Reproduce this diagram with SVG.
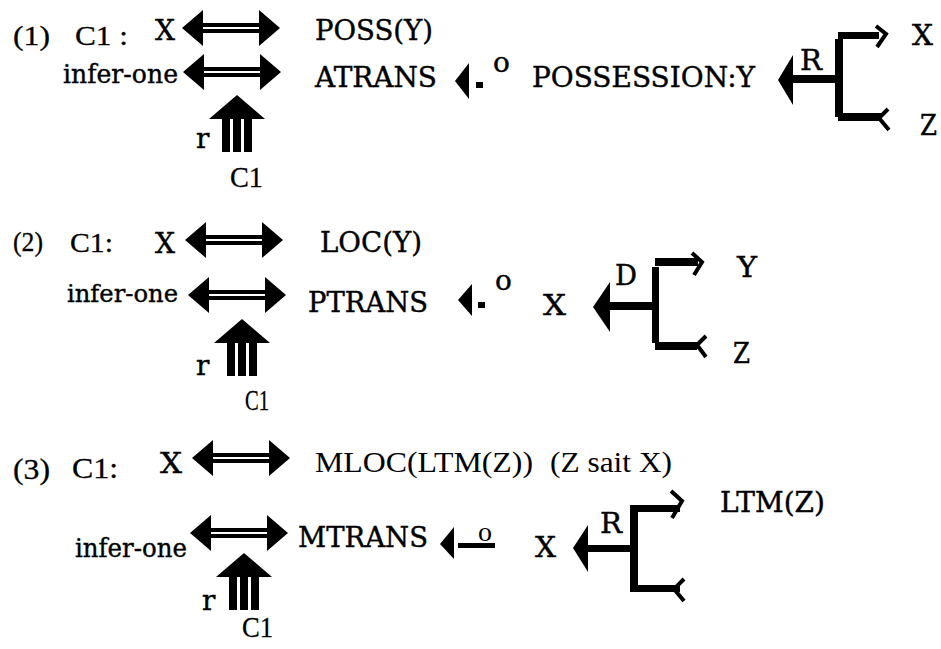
<svg xmlns="http://www.w3.org/2000/svg" xmlns:xlink="http://www.w3.org/1999/xlink" width="941" height="649" viewBox="0 0 941 649">
<style>
.bm{font-family:"DejaVu Serif","Liberation Serif",serif;font-size:27px;fill:#000;stroke:#000;stroke-width:0.4}
.sm{font-family:"DejaVu Serif","Liberation Serif",serif;font-size:28px;fill:#000;stroke:#000;stroke-width:0.4}
.tm{font-family:"Liberation Serif","Times New Roman",serif;font-size:28px;fill:#000;stroke:#000;stroke-width:0.3}
.tb{font-family:"Liberation Serif","Times New Roman",serif;font-size:30px;fill:#000}
.blk{fill:#000;stroke:none}
.chev{fill:none;stroke:#000;stroke-width:4;stroke-linejoin:miter}
</style>
<defs>
<g id="dbl">
<path class="blk" d="M0,0 L21,-18 L21,18 Z M98,0 L77,-18 L77,18 Z"/>
<rect class="blk" x="20" y="-5" width="58" height="4"/>
<rect class="blk" x="20" y="1" width="58" height="4"/>
</g>
<g id="up3">
<path class="blk" d="M0,0 L28,24 L-28,24 Z"/>
<rect class="blk" x="-15" y="23" width="8" height="34"/>
<rect class="blk" x="-4" y="23" width="8" height="34"/>
<rect class="blk" x="7" y="23" width="8" height="34"/>
</g>
</defs>
<rect width="941" height="649" fill="#fff"/>

<!-- Section 1 -->
<g id="s1-label"><text class="tm" x="13" y="45" textLength="37" lengthAdjust="spacingAndGlyphs">(1)</text><text class="tm" x="75" y="45" textLength="53" lengthAdjust="spacingAndGlyphs">C1 :</text></g>
<g id="s1-x"><text class="bm" x="155" y="40" style="font-size:28px" textLength="20" lengthAdjust="spacingAndGlyphs">X</text></g>
<g id="s1-poss"><text class="bm" x="315" y="40" textLength="118" lengthAdjust="spacingAndGlyphs">POSS(Y)</text></g>
<g id="s1-infer"><text class="bm" x="63" y="83" style="font-size:26px" textLength="115" lengthAdjust="spacingAndGlyphs">infer-one</text></g>
<g id="s1-atrans"><text class="bm" x="315" y="87" textLength="122" lengthAdjust="spacingAndGlyphs">ATRANS</text></g>
<g id="s1-possession"><text class="bm" x="532" y="87" textLength="223" lengthAdjust="spacingAndGlyphs">POSSESSION:Y</text></g>
<g id="s1-o"><text class="sm" x="493" y="72">o</text></g>
<g id="s1-r"><text class="sm" x="196" y="148">r</text></g>
<g id="s1-c1"><text class="tm" x="230" y="187" style="font-size:30px" textLength="33" lengthAdjust="spacingAndGlyphs">C1</text></g>
<g id="s1-R"><text class="bm" x="800" y="70" textLength="22" lengthAdjust="spacingAndGlyphs">R</text></g>
<g id="s1-X2"><text class="bm" x="912" y="45" textLength="21" lengthAdjust="spacingAndGlyphs">X</text></g>
<g id="s1-Z"><text class="bm" x="920" y="135" textLength="17" lengthAdjust="spacingAndGlyphs">Z</text></g>

<!-- Section 2 -->
<g id="s2-label"><text class="tm" x="13" y="251" textLength="30" lengthAdjust="spacingAndGlyphs">(2)</text><text class="tm" x="70" y="252" textLength="43" lengthAdjust="spacingAndGlyphs">C1:</text></g>
<g id="s2-x"><text class="bm" x="155" y="253" style="font-size:28px" textLength="20" lengthAdjust="spacingAndGlyphs">X</text></g>
<g id="s2-loc"><text class="bm" x="320" y="252" textLength="102" lengthAdjust="spacingAndGlyphs">LOC(Y)</text></g>
<g id="s2-infer"><text class="bm" x="67" y="302" style="font-size:25px" textLength="111" lengthAdjust="spacingAndGlyphs">infer-one</text></g>
<g id="s2-ptrans"><text class="bm" x="308" y="312" textLength="120" lengthAdjust="spacingAndGlyphs">PTRANS</text></g>
<g id="s2-o"><text class="sm" x="495" y="290">o</text></g>
<g id="s2-X2"><text class="bm" x="543" y="315" style="font-size:28px" textLength="23" lengthAdjust="spacingAndGlyphs">X</text></g>
<g id="s2-D"><text class="bm" x="615" y="285" textLength="22" lengthAdjust="spacingAndGlyphs">D</text></g>
<g id="s2-Y"><text class="bm" x="737" y="277" textLength="20" lengthAdjust="spacingAndGlyphs">Y</text></g>
<g id="s2-Z"><text class="bm" x="733" y="363" textLength="17" lengthAdjust="spacingAndGlyphs">Z</text></g>
<g id="s2-r"><text class="sm" x="196" y="375">r</text></g>
<g id="s2-c1"><text class="tm" x="245" y="410" style="font-size:30px" textLength="24" lengthAdjust="spacingAndGlyphs">C1</text></g>

<!-- Section 3 -->
<g id="s3-label"><text class="tm" x="13" y="479" style="font-size:29px" textLength="37" lengthAdjust="spacingAndGlyphs">(3)</text><text class="tm" x="72" y="478" style="font-size:29px" textLength="46" lengthAdjust="spacingAndGlyphs">C1:</text></g>
<g id="s3-x"><text class="bm" x="160" y="473" style="font-size:28px" textLength="22" lengthAdjust="spacingAndGlyphs">X</text></g>
<g id="s3-mloc"><text class="tb" x="315" y="472" textLength="218" lengthAdjust="spacingAndGlyphs">MLOC(LTM(Z))</text><text class="tb" x="550" y="472" textLength="122" lengthAdjust="spacingAndGlyphs">(Z sait X)</text></g>
<g id="s3-infer"><text class="bm" x="75" y="557" style="font-size:26px" textLength="112" lengthAdjust="spacingAndGlyphs">infer-one</text></g>
<g id="s3-mtrans"><text class="bm" x="298" y="547" textLength="130" lengthAdjust="spacingAndGlyphs">MTRANS</text></g>
<g id="s3-o"><text class="tb" x="478" y="541" style="font-size:28px">o</text></g>
<g id="s3-X2"><text class="bm" x="535" y="557" style="font-size:28px" textLength="21" lengthAdjust="spacingAndGlyphs">X</text></g>
<g id="s3-R"><text class="bm" x="600" y="533" textLength="22" lengthAdjust="spacingAndGlyphs">R</text></g>
<g id="s3-ltm"><text class="bm" x="720" y="512" textLength="105" lengthAdjust="spacingAndGlyphs">LTM(Z)</text></g>
<g id="s3-r"><text class="sm" x="202" y="610">r</text></g>
<g id="s3-c1"><text class="tm" x="242" y="637" style="font-size:30px" textLength="31" lengthAdjust="spacingAndGlyphs">C1</text></g>

<g id="connectors">
<!-- double arrows -->
<use xlink:href="#dbl" href="#dbl" x="182" y="28"/>
<use xlink:href="#dbl" href="#dbl" x="183" y="72"/>
<use xlink:href="#dbl" href="#dbl" x="185" y="240"/>
<use xlink:href="#dbl" href="#dbl" x="188" y="295"/>
<use xlink:href="#dbl" href="#dbl" x="192" y="458"/>
<use xlink:href="#dbl" href="#dbl" x="190" y="533"/>
<!-- triple up arrows -->
<use xlink:href="#up3" href="#up3" x="237" y="95"/>
<use xlink:href="#up3" href="#up3" x="242" y="319"/>
<use xlink:href="#up3" href="#up3" x="244" y="553"/>
<!-- small arrows -->
<path class="blk" d="M455,81 L469,63 L469,99 Z"/>
<rect class="blk" x="476" y="82" width="7" height="6"/>
<path class="blk" d="M458,300 L472,284 L472,316 Z"/>
<rect class="blk" x="478" y="302" width="7" height="6"/>
<path class="blk" d="M440,544 L454,527 L454,559 Z"/>
<rect class="blk" x="458" y="543" width="37" height="5"/>
<!-- fork 1 -->
<path class="blk" d="M778,80 L793,55 L793,105 Z"/>
<rect class="blk" x="792" y="75" width="46" height="8"/>
<rect class="blk" x="835" y="39" width="8" height="78"/>
<rect class="blk" x="838" y="32" width="41" height="7"/>
<rect class="blk" x="838" y="113" width="43" height="8"/>
<polyline class="chev" points="876,26 886,34 877,47"/>
<polyline class="chev" points="888,109 879,118 889,130"/>
<!-- fork 2 -->
<path class="blk" d="M593,307 L610,282 L610,332 Z"/>
<rect class="blk" x="609" y="302" width="46" height="8"/>
<rect class="blk" x="652" y="267" width="7" height="76"/>
<rect class="blk" x="655" y="258" width="43" height="8"/>
<rect class="blk" x="655" y="342" width="42" height="8"/>
<polyline class="chev" points="692,253 702,262 694,275"/>
<polyline class="chev" points="706,336 697,345 706,357"/>
<!-- fork 3 -->
<path class="blk" d="M573,548 L588,525 L588,572 Z"/>
<rect class="blk" x="587" y="545" width="46" height="7"/>
<rect class="blk" x="630" y="505" width="8" height="87"/>
<rect class="blk" x="635" y="505" width="45" height="7"/>
<rect class="blk" x="635" y="585" width="45" height="7"/>
<polyline class="chev" points="671,491 682,501 672,518"/>
<polyline class="chev" points="684,579 674,589 684,601"/>
</g>
</svg>
